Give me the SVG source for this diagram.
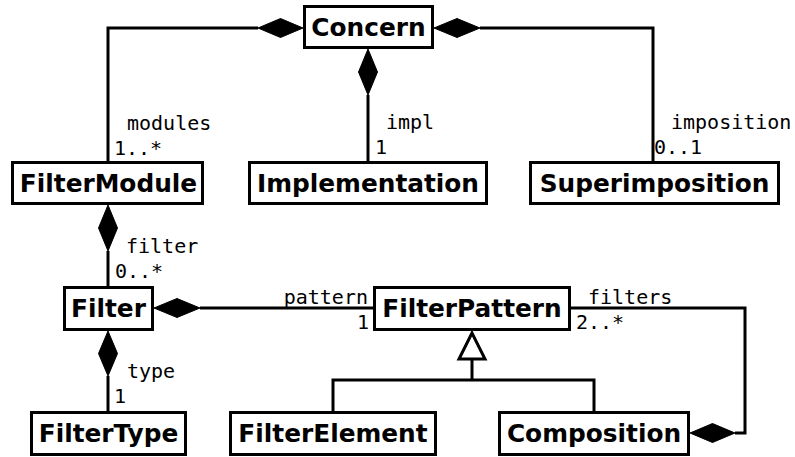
<svg xmlns="http://www.w3.org/2000/svg" width="795" height="457" viewBox="0 0 795 457">
<style>
.box{fill:#fff;stroke:#000;stroke-width:3}
.name{font-family:"DejaVu Sans",sans-serif;font-weight:bold;font-size:24.8px;text-anchor:middle;fill:#000}
.lbl{font-family:"DejaVu Sans Mono",monospace;font-size:20px;fill:#000}
.end{text-anchor:end}
.ln{fill:none;stroke:#000;stroke-width:3}
.dia{fill:#000;stroke:#000;stroke-width:1}
.tri{fill:#fff;stroke:#000;stroke-width:3}
</style>
<rect width="795" height="457" fill="#fff"/>
<g id="connectors">
<path class="ln" d="M258 28 H108 V161"/>
<polygon class="dia" points="303,28 280.5,18.5 258,28 280.5,37.5"/>
<path class="ln" d="M480 28 H653 V161"/>
<polygon class="dia" points="434,28 457,18.5 480,28 457,37.5"/>
<path class="ln" d="M368 95 V161"/>
<polygon class="dia" points="368,49 358.5,72 368,95 377.5,72"/>
<path class="ln" d="M108 251 V286"/>
<polygon class="dia" points="108,205 98.5,228 108,251 117.5,228"/>
<path class="ln" d="M200 308 H373"/>
<polygon class="dia" points="154,308 177,298.5 200,308 177,317.5"/>
<path class="ln" d="M108 376 V411"/>
<polygon class="dia" points="108,331 98.5,353.5 108,376 117.5,353.5"/>
<path class="ln" d="M571 308 H745 V433 H735"/>
<polygon class="dia" points="690,433 712.5,423.5 735,433 712.5,442.5"/>
<path class="ln" d="M472 359 V380 M333 411 V380 H594 V411"/>
<polygon class="tri" points="472,333 459,359 485,359"/>
<text class="lbl" x="127" y="130">modules</text>
<text class="lbl" x="114" y="155">1..*</text>
<text class="lbl" x="386" y="129">impl</text>
<text class="lbl" x="375" y="154">1</text>
<text class="lbl" x="671" y="129">imposition</text>
<text class="lbl" x="654" y="154">0..1</text>
<text class="lbl" x="126" y="253">filter</text>
<text class="lbl" x="115" y="278">0..*</text>
<text class="lbl end" x="368" y="304">pattern</text>
<text class="lbl end" x="369" y="329">1</text>
<text class="lbl" x="588" y="304">filters</text>
<text class="lbl" x="576" y="329">2..*</text>
<text class="lbl" x="127" y="378">type</text>
<text class="lbl" x="114" y="403">1</text>
</g>
<g id="Concern"><rect class="box" x="304.5" y="6.5" width="128" height="41"/><text class="name" x="368.5" y="35.5">Concern</text></g>
<g id="FilterModule"><rect class="box" x="12.5" y="162.5" width="190" height="41"/><text class="name" x="108.5" y="191.5">FilterModule</text></g>
<g id="Implementation"><rect class="box" x="249.5" y="162.5" width="237" height="41"/><text class="name" x="368" y="191.5">Implementation</text></g>
<g id="Superimposition"><rect class="box" x="530.5" y="162.5" width="248" height="41"/><text class="name" x="654.5" y="191.5">Superimposition</text></g>
<g id="Filter"><rect class="box" x="64.5" y="287.5" width="88" height="42"/><text class="name" x="108.5" y="317">Filter</text></g>
<g id="FilterPattern"><rect class="box" x="374.5" y="287.5" width="195" height="42"/><text class="name" x="472" y="317">FilterPattern</text></g>
<g id="FilterType"><rect class="box" x="31.5" y="412.5" width="154" height="42"/><text class="name" x="108.5" y="442">FilterType</text></g>
<g id="FilterElement"><rect class="box" x="230.5" y="412.5" width="205" height="42"/><text class="name" x="333" y="442">FilterElement</text></g>
<g id="Composition"><rect class="box" x="499.5" y="412.5" width="189" height="42"/><text class="name" x="594" y="442">Composition</text></g>
</svg>
